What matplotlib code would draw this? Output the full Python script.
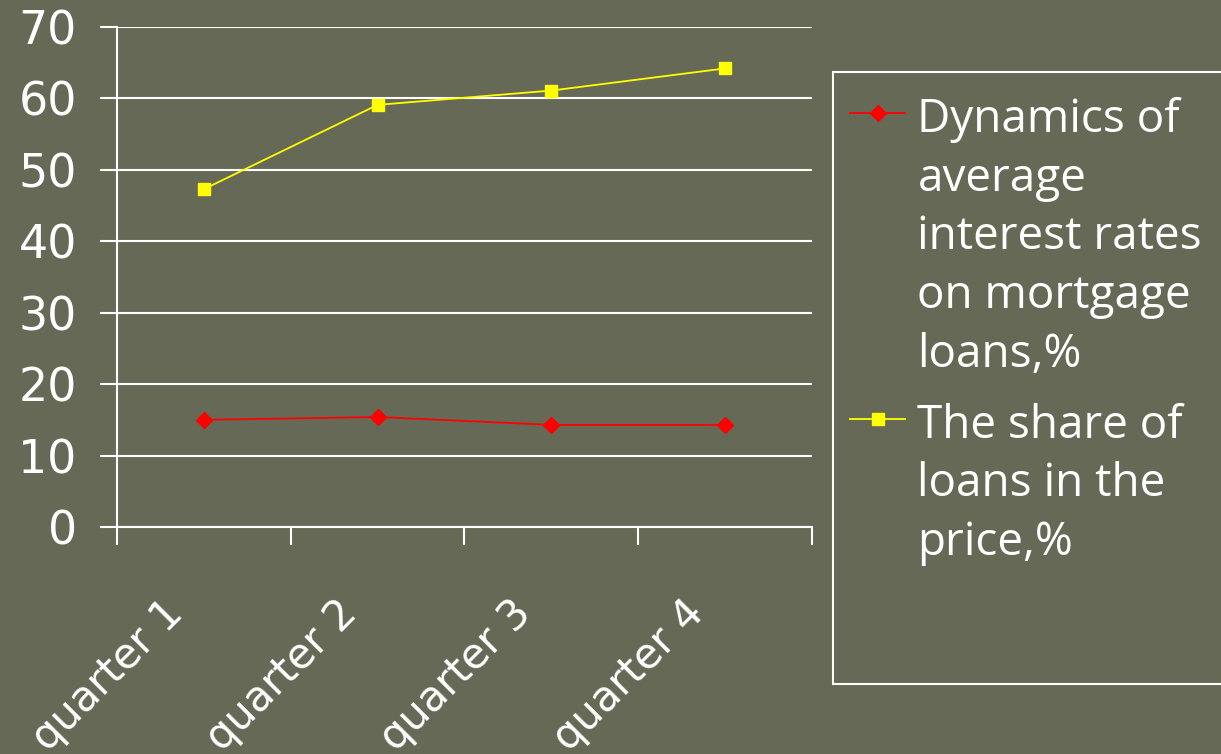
import matplotlib
matplotlib.use("Agg")
import matplotlib.pyplot as plt
from matplotlib.patches import Rectangle
from matplotlib.transforms import ScaledTranslation

categories = ["quarter 1", "quarter 2", "quarter 3", "quarter 4"]
interest_rates = [15.0, 15.4, 14.3, 14.3]
loan_share = [47.3, 59.1, 61.1, 64.2]
series_labels = ["Dynamics of\naverage\ninterest rates\non mortgage\nloans,%",
                 "The share of\nloans in the\nprice,%"]
y_ticks = [0, 10, 20, 30, 40, 50, 60, 70]

bg = "#666955"
fig = plt.figure(figsize=(12.21, 7.54), dpi=100, facecolor=bg)
ax = fig.add_axes([117/1221, 1-527/754, (812-117)/1221, 500/754])
ax.set_facecolor(bg)

x = list(range(len(categories)))
l1, = ax.plot(x, interest_rates, color="#ff0000", lw=1.3, marker="D", markersize=8, label=series_labels[0])
l2, = ax.plot(x, loan_share, color="#ffff00", lw=1.3, marker="s", markersize=8, label=series_labels[1])

ax.set_xlim(-0.5, 3.5)
ax.set_ylim(0, 70)
ax.set_yticks(y_ticks)
ax.yaxis.grid(True, color="white", lw=1.5)
ax.set_axisbelow(True)
for s in ["top", "right"]:
    ax.spines[s].set_visible(False)
for s in ["left", "bottom"]:
    ax.spines[s].set_color("white")
    ax.spines[s].set_linewidth(1.5)

ax.set_xticks([-0.5, 0.5, 1.5, 2.5, 3.5])
ax.set_xticklabels([])
ax.set_xticks(x, minor=True)
ax.set_xticklabels(categories, minor=True, rotation=45, ha="right", va="top",
                   rotation_mode="anchor", fontsize=30, color="white",
                   fontfamily="DejaVu Sans")
ax.tick_params(axis="x", which="minor", length=0, pad=47)
ax.tick_params(axis="x", which="major", length=13, width=1.5, color="white", direction="out")
ax.tick_params(axis="y", length=12, width=1.5, color="white", labelsize=33, labelcolor="white", pad=17)
off = ScaledTranslation(-42/100, 0, fig.dpi_scale_trans)
for lab in ax.get_xticklabels(minor=True):
    lab.set_transform(lab.get_transform() + off)
for lab in ax.get_yticklabels():
    lab.set_fontfamily("DejaVu Sans")

# legend frame
fig.patches.append(Rectangle((833/1221, 1-684/754), 400/1221, (684-72)/754,
                             transform=fig.transFigure, facecolor=bg, edgecolor="white", lw=1.5))
leg = fig.legend(handles=[l1, l2], loc="upper left", bbox_to_anchor=(850/1221, 1-97/754),
                 frameon=False, fontsize=33, labelcolor="white", handlelength=1.2,
                 handletextpad=0.27, labelspacing=0.55, borderaxespad=0, borderpad=0)
for t in leg.get_texts():
    t.set_fontfamily("Open Sans")
    t.set_linespacing(1.36)
for col in leg._legend_handle_box.get_children():
    for hp in col.get_children():
        hp.align = "top"

fig.savefig("out.png", dpi=100, facecolor=bg)
